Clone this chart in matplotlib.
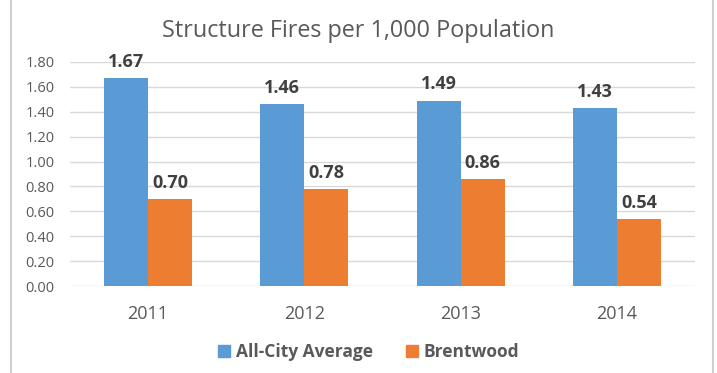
import matplotlib
matplotlib.use("Agg")
import matplotlib.pyplot as plt
import numpy as np
from matplotlib.lines import Line2D
from matplotlib.patches import Patch

years = ["2011", "2012", "2013", "2014"]
all_city = [1.67, 1.46, 1.49, 1.43]
brentwood = [0.70, 0.78, 0.86, 0.54]
series_names = ["All-City Average", "Brentwood"]
yticks = [0.0, 0.2, 0.4, 0.6, 0.8, 1.0, 1.2, 1.4, 1.6, 1.8]

blue = "#5B9BD5"
orange = "#ED7D31"
txt = "#595959"
grid = "#D9D9D9"

plt.rcParams['font.family'] = ['Open Sans', 'DejaVu Sans']

fig = plt.figure(figsize=(7.17, 3.73), dpi=100)
ax = fig.add_axes([0.0976, 0.2332, 0.8716, 0.6006])

x = np.arange(len(years))
w = 0.282
b1 = ax.bar(x - w/2, all_city, w, color=blue, zorder=2, label=series_names[0])
b2 = ax.bar(x + w/2, brentwood, w, color=orange, zorder=2, label=series_names[1])

for bars, vals in ((b1, all_city), (b2, brentwood)):
    for r, v in zip(bars, vals):
        ax.annotate(f"{v:.2f}", (r.get_x() + r.get_width()/2, v), xytext=(0, 8),
                    textcoords="offset points", ha="center", va="baseline",
                    fontsize=13, fontweight="bold", color="#404040", clip_on=False, zorder=3)

ax.set_xlim(-0.5, len(years) - 0.5)
ax.set_ylim(0, 1.8)
ax.set_yticks(yticks)
ax.set_yticklabels([f"{t:.2f}" for t in yticks])
ax.set_xticks(x)
ax.set_xticklabels(years)
ax.yaxis.grid(True, color=grid, linewidth=1, zorder=0)
ax.set_axisbelow(True)
for s in ax.spines.values():
    s.set_visible(False)
ax.tick_params(axis="both", length=0, colors=txt)
ax.tick_params(axis="y", labelsize=10.5, pad=11)
ax.tick_params(axis="x", labelsize=13, pad=14)

fig.text(0.5, 0.918, "Structure Fires per 1,000 Population", ha="center", va="center",
         fontsize=16.8, color=txt)

handles = [Patch(color=blue), Patch(color=orange)]
leg = fig.legend(handles, series_names, loc="center", bbox_to_anchor=(0.514, 0.055),
                 ncol=2, frameon=False, handlelength=0.7, handleheight=0.7,
                 handletextpad=0.35, columnspacing=1.9,
                 prop={"size": 12.5, "weight": "bold"})
for t in leg.get_texts():
    t.set_color(txt)

fig.add_artist(Line2D([11/717, 11/717], [0, 1], transform=fig.transFigure, color="#D0D0D0", linewidth=1.5))
fig.add_artist(Line2D([713/717, 713/717], [0, 1], transform=fig.transFigure, color="#D0D0D0", linewidth=1.5))

fig.savefig("out.png", dpi=100)
